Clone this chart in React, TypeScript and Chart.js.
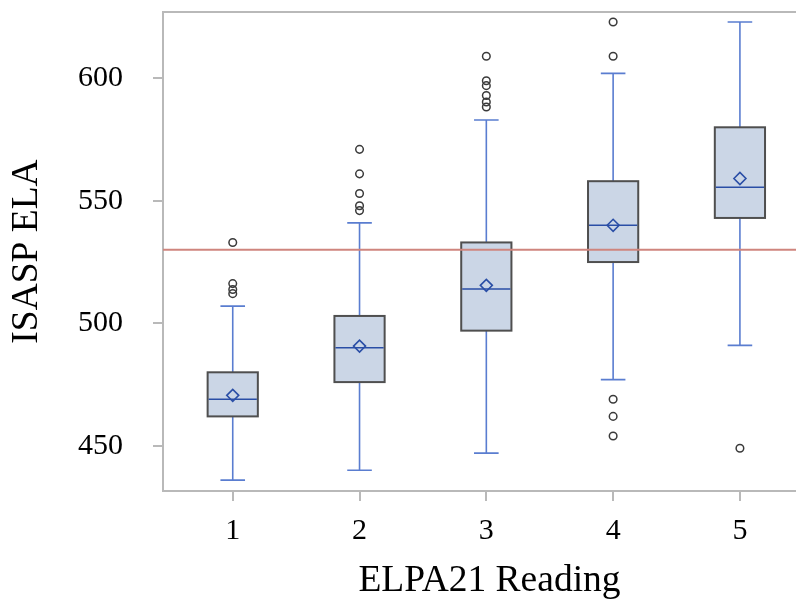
import React, { useEffect, useRef } from "react";
import { Chart, registerables } from "chart.js";

Chart.register(...registerables);

// ---- data ----
const categories = [1, 2, 3, 4, 5];
const whiskerLow = [436, 440, 447, 477, 491];
const q1 = [462, 476, 497, 525, 543];
const median = [469, 490, 514, 540, 555.5];
const q3 = [480, 503, 533, 558, 580];
const whiskerHigh = [507, 541, 583, 602, 623];
const means = [470.6, 490.7, 515.5, 540, 559.1];
const outliers1 = [533, 516.2, 513.8, 512.1];
const outliers2 = [571, 561, 553, 548, 546];
const outliers3 = [609, 599, 597, 593, 590.3, 588.3];
const outliers4 = [623, 609, 469, 462, 454];
const outliers5 = [449];
const referenceValue = 530;
const xTitle = "ELPA21 Reading";
const yTitle = "ISASP ELA";

const outlierGroups = [outliers1, outliers2, outliers3, outliers4, outliers5];

const FONT = "'Liberation Serif', 'Times New Roman', serif";
const AXIS_GRAY = "#b9b9b9";

const boxPlugin = {
  id: "boxes",
  beforeDatasetsDraw(chart: any) {
    const { ctx, chartArea, scales } = chart;
    const xs = scales.x;
    const ys = scales.y;
    const unit = xs.getPixelForValue(2) - xs.getPixelForValue(1);
    const halfBox = unit * 0.198;
    const halfCap = unit * 0.097;
    ctx.save();
    categories.forEach((c, i) => {
      const cx = xs.getPixelForValue(c);
      const yLo = ys.getPixelForValue(whiskerLow[i]);
      const yQ1 = ys.getPixelForValue(q1[i]);
      const yMed = ys.getPixelForValue(median[i]);
      const yQ3 = ys.getPixelForValue(q3[i]);
      const yHi = ys.getPixelForValue(whiskerHigh[i]);
      // whiskers
      ctx.strokeStyle = "#5a7dd0";
      ctx.lineWidth = 1.6;
      ctx.beginPath();
      ctx.moveTo(cx, yQ3);
      ctx.lineTo(cx, yHi);
      ctx.moveTo(cx, yQ1);
      ctx.lineTo(cx, yLo);
      ctx.moveTo(cx - halfCap, yHi);
      ctx.lineTo(cx + halfCap, yHi);
      ctx.moveTo(cx - halfCap, yLo);
      ctx.lineTo(cx + halfCap, yLo);
      ctx.stroke();
      // box
      ctx.fillStyle = "#cbd6e6";
      ctx.fillRect(cx - halfBox, yQ3, halfBox * 2, yQ1 - yQ3);
      ctx.strokeStyle = "#4f4f4f";
      ctx.lineWidth = 2;
      ctx.strokeRect(cx - halfBox, yQ3, halfBox * 2, yQ1 - yQ3);
      // median
      ctx.strokeStyle = "#2a4ea6";
      ctx.lineWidth = 1.6;
      ctx.beginPath();
      ctx.moveTo(cx - halfBox + 1, yMed);
      ctx.lineTo(cx + halfBox - 1, yMed);
      ctx.stroke();
    });
    // reference line
    const yr = ys.getPixelForValue(referenceValue);
    ctx.strokeStyle = "#cf857e";
    ctx.lineWidth = 2;
    ctx.beginPath();
    ctx.moveTo(chartArea.left, yr);
    ctx.lineTo(chartArea.right, yr);
    ctx.stroke();
    // top frame line
    ctx.strokeStyle = AXIS_GRAY;
    ctx.lineWidth = 2;
    ctx.beginPath();
    ctx.moveTo(chartArea.left, chartArea.top);
    ctx.lineTo(chartArea.right, chartArea.top);
    ctx.stroke();
    ctx.restore();
  },
};

const zeroPad = (s: any) => {
  s.paddingTop = 0;
  s.paddingBottom = 0;
  s.paddingLeft = 0;
  s.paddingRight = 0;
};

export default function App() {
  const ref = useRef<HTMLCanvasElement | null>(null);

  useEffect(() => {
    document.body.style.margin = "0";
    document.body.style.overflow = "hidden";
    const canvas = ref.current;
    if (!canvas) return;

    const outlierData: { x: number; y: number }[] = [];
    outlierGroups.forEach((g, i) => g.forEach((v) => outlierData.push({ x: categories[i], y: v })));
    const meanData = categories.map((c, i) => ({ x: c, y: means[i] }));

    const chart = new Chart(canvas, {
      type: "scatter",
      data: {
        datasets: [
          {
            label: "Mean",
            data: meanData,
            pointStyle: "rectRot",
            pointRadius: 6,
            pointBorderWidth: 1.6,
            borderColor: "#2a4ea6",
            backgroundColor: "rgba(0,0,0,0)",
          },
          {
            label: "Outliers",
            data: outlierData,
            pointStyle: "circle",
            pointRadius: 3.8,
            pointBorderWidth: 1.5,
            borderColor: "#3a3a3a",
            backgroundColor: "rgba(0,0,0,0)",
          },
        ],
      },
      options: {
        responsive: false,
        animation: false,
        layout: { autoPadding: false, padding: { top: 12, right: 0, left: 0, bottom: 0 } },
        plugins: {
          legend: { display: false },
          tooltip: { enabled: false },
        },
        scales: {
          x: {
            type: "linear",
            min: 0.45,
            max: 5.6,
            afterFit: (s: any) => {
              s.height = 117;
              zeroPad(s);
            },
            ticks: {
              stepSize: 1,
              includeBounds: false,
              padding: 12,
              color: "#000",
              font: { family: FONT, size: 30 },
            },
            grid: {
              drawOnChartArea: false,
              drawTicks: true,
              tickLength: 10,
              color: AXIS_GRAY,
              lineWidth: 2,
            },
            border: { display: true, color: AXIS_GRAY, width: 2 },
            title: {
              display: true,
              text: xTitle,
              color: "#000",
              font: { family: FONT, size: 37.5 },
              padding: { top: 0, bottom: 4 },
            },
          },
          y: {
            type: "linear",
            min: 431.55,
            max: 627.06,
            afterFit: (s: any) => {
              s.width = 163;
              zeroPad(s);
            },
            ticks: {
              stepSize: 50,
              includeBounds: false,
              padding: 30,
              color: "#000",
              font: { family: FONT, size: 30 },
            },
            grid: {
              drawOnChartArea: false,
              drawTicks: true,
              tickLength: 10,
              color: AXIS_GRAY,
              lineWidth: 2,
            },
            border: { display: true, color: AXIS_GRAY, width: 2 },
            title: {
              display: true,
              text: yTitle,
              color: "#000",
              font: { family: FONT, size: 37.5 },
              padding: { top: 5, bottom: 0 },
            },
          },
        },
      },
      plugins: [boxPlugin],
    });
    return () => chart.destroy();
  }, []);

  return (
    <div style={{ position: "absolute", left: 0, top: 0, width: 796, height: 608, overflow: "hidden" }}>
      <canvas ref={ref} width={816} height={608} style={{ display: "block" }} />
    </div>
  );
}
